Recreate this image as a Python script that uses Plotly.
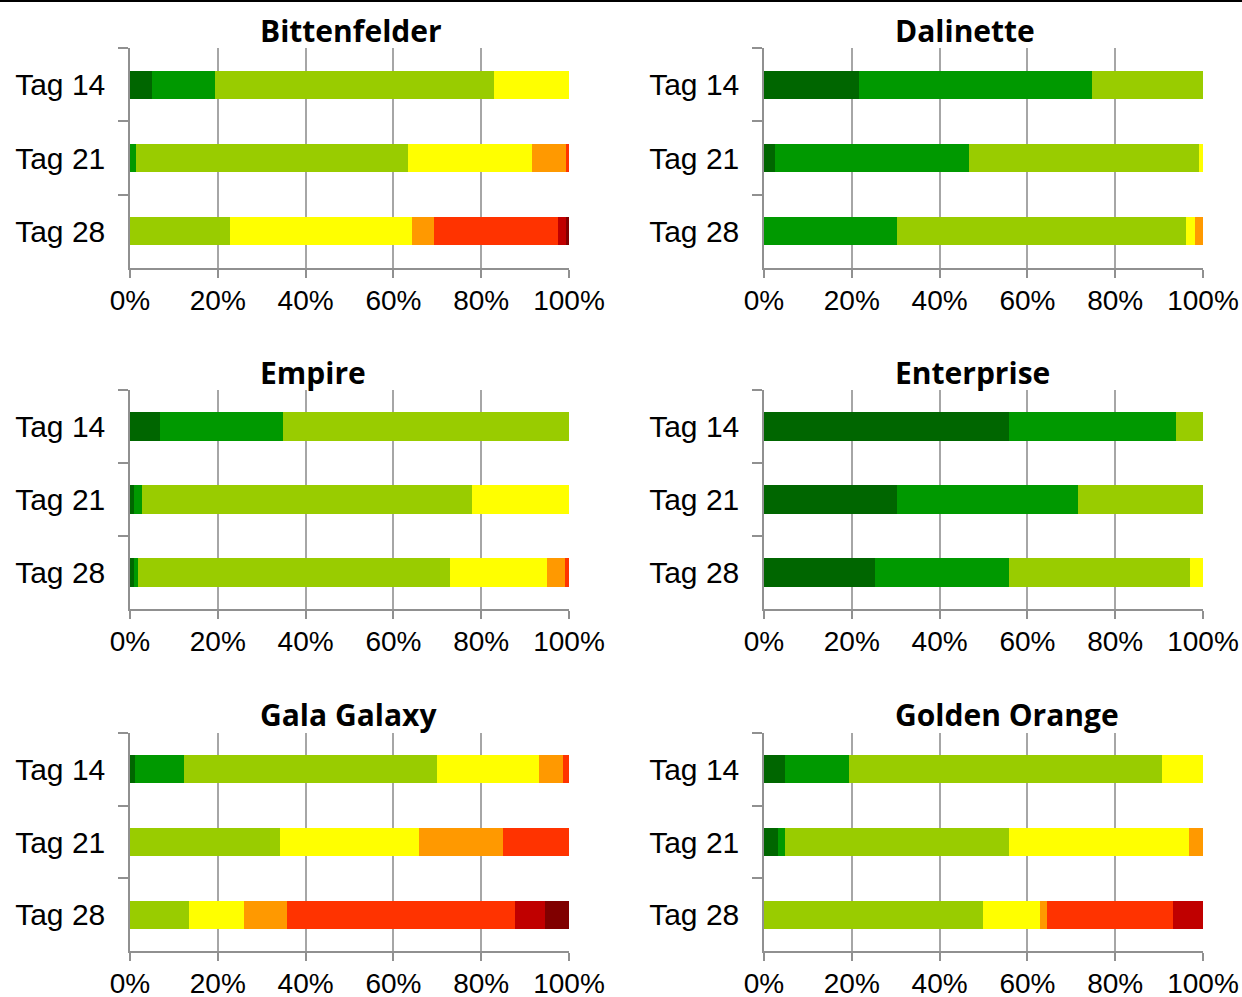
import plotly.graph_objects as go

# ---- data ----
days = ["Tag 14", "Tag 21", "Tag 28"]
classes = ["Klasse 1", "Klasse 2", "Klasse 3", "Klasse 4",
           "Klasse 5", "Klasse 6", "Klasse 7", "Klasse 8"]
class_colors = ["#006600", "#009900", "#99CC00", "#FFFF00",
                "#FF9900", "#FF3300", "#C00000", "#800000"]

bittenfelder = [
    [5.0, 14.4, 63.6, 17.0, 0, 0, 0, 0],
    [0, 1.4, 61.9, 28.2, 7.8, 0.7, 0, 0],
    [0, 0, 22.8, 41.4, 5.0, 28.3, 1.8, 0.7],
]
dalinette = [
    [21.7, 53.0, 25.3, 0, 0, 0, 0, 0],
    [2.6, 44.2, 52.4, 0.8, 0, 0, 0, 0],
    [0, 30.4, 65.7, 2.0, 1.9, 0, 0, 0],
]
empire = [
    [6.8, 28.1, 65.1, 0, 0, 0, 0, 0],
    [0.9, 1.8, 75.2, 22.1, 0, 0, 0, 0],
    [0.8, 1.0, 71.2, 22.0, 4.1, 0.9, 0, 0],
]
enterprise = [
    [55.7, 38.1, 6.2, 0, 0, 0, 0, 0],
    [30.2, 41.3, 28.5, 0, 0, 0, 0, 0],
    [25.2, 30.5, 41.3, 3.0, 0, 0, 0, 0],
]
gala_galaxy = [
    [1.1, 11.2, 57.7, 23.2, 5.5, 1.3, 0, 0],
    [0, 0, 34.2, 31.7, 19.0, 15.1, 0, 0],
    [0, 0, 13.5, 12.5, 9.7, 52.1, 6.8, 5.4],
]
golden_orange = [
    [4.7, 14.7, 71.2, 9.4, 0, 0, 0, 0],
    [3.2, 1.5, 51.0, 41.1, 3.2, 0, 0, 0],
    [0, 0, 49.8, 13.0, 1.7, 28.7, 6.8, 0],
]
varieties = ["Bittenfelder", "Dalinette", "Empire",
             "Enterprise", "Gala Galaxy", "Golden Orange"]
variety_data = [bittenfelder, dalinette, empire,
                enterprise, gala_galaxy, golden_orange]

x_ticks = [0, 20, 40, 60, 80, 100]
x_tick_labels = ["0%", "20%", "40%", "60%", "80%", "100%"]

# ---- layout geometry (pixels) ----
W, H = 1242, 997
col_px = [(130, 569), (764, 1203)]
row_px = [(48, 268), (390, 609), (733, 951)]
title_x_px = [258, 893]
title_y_px = [30, 372, 714]

fig = go.Figure()
layout = dict(
    width=W, height=H, autosize=False,
    margin=dict(l=0, r=0, t=0, b=0, pad=0, autoexpand=False),
    paper_bgcolor="white", plot_bgcolor="white",
    barmode="stack", bargap=0.616, showlegend=False,
    font=dict(family="Liberation Sans, Arial, sans-serif", size=28, color="black"),
)
annotations = []

for i, (name, data) in enumerate(zip(varieties, variety_data)):
    r, c = divmod(i, 2)
    n = i + 1
    xa = "x" if n == 1 else f"x{n}"
    ya = "y" if n == 1 else f"y{n}"
    for k, cls in enumerate(classes):
        fig.add_trace(go.Bar(
            y=days, x=[row[k] for row in data], orientation="h",
            name=cls, marker=dict(color=class_colors[k], line=dict(width=0)),
            xaxis=xa, yaxis=ya, showlegend=False,
        ))
    x0, x1 = col_px[c]
    y0, y1 = row_px[r]
    layout["xaxis" if n == 1 else f"xaxis{n}"] = dict(
        domain=[x0 / W, x1 / W], anchor=ya, automargin=False,
        range=[0, 100], tickmode="array",
        tickvals=x_ticks, ticktext=x_tick_labels,
        showgrid=True, gridcolor="#A6A6A6", gridwidth=1.5,
        showline=True, linecolor="#909090", linewidth=1.5,
        ticks="outside", ticklen=8, tickcolor="#909090", tickwidth=1.5,
        ticklabelstandoff=-1,
        zeroline=False, fixedrange=True,
        tickfont=dict(size=28),
    )
    layout["yaxis" if n == 1 else f"yaxis{n}"] = dict(
        domain=[1 - y1 / H, 1 - y0 / H], anchor=xa, automargin=False,
        type="category", categoryorder="array", categoryarray=days,
        autorange="reversed",
        showline=True, linecolor="#909090", linewidth=1.5,
        ticks="outside", ticklen=10, tickcolor="#909090", tickwidth=1.5,
        tickson="boundaries", showgrid=False, zeroline=False,
        ticklabelstandoff=17,
        tickfont=dict(size=30), fixedrange=True,
    )
    annotations.append(dict(
        text=f"<b>{name}</b>", xref="paper", yref="paper",
        x=title_x_px[c] / W, y=1 - title_y_px[r] / H,
        xanchor="left", yanchor="middle", showarrow=False,
        font=dict(family="Open Sans, sans-serif", size=30, color="black"),
    ))

layout["annotations"] = annotations
layout["shapes"] = [dict(type="line", xref="paper", yref="paper",
                         x0=0, x1=1, y0=1 - 1 / H, y1=1 - 1 / H,
                         line=dict(color="black", width=2))]
fig.update_layout(**layout)
fig.write_html(
    "out.html",
    config={"displayModeBar": False, "responsive": False},
    post_script="document.body.style.margin='0';"
                "document.body.style.overflow='hidden';"
                "document.documentElement.style.overflow='hidden';",
)
